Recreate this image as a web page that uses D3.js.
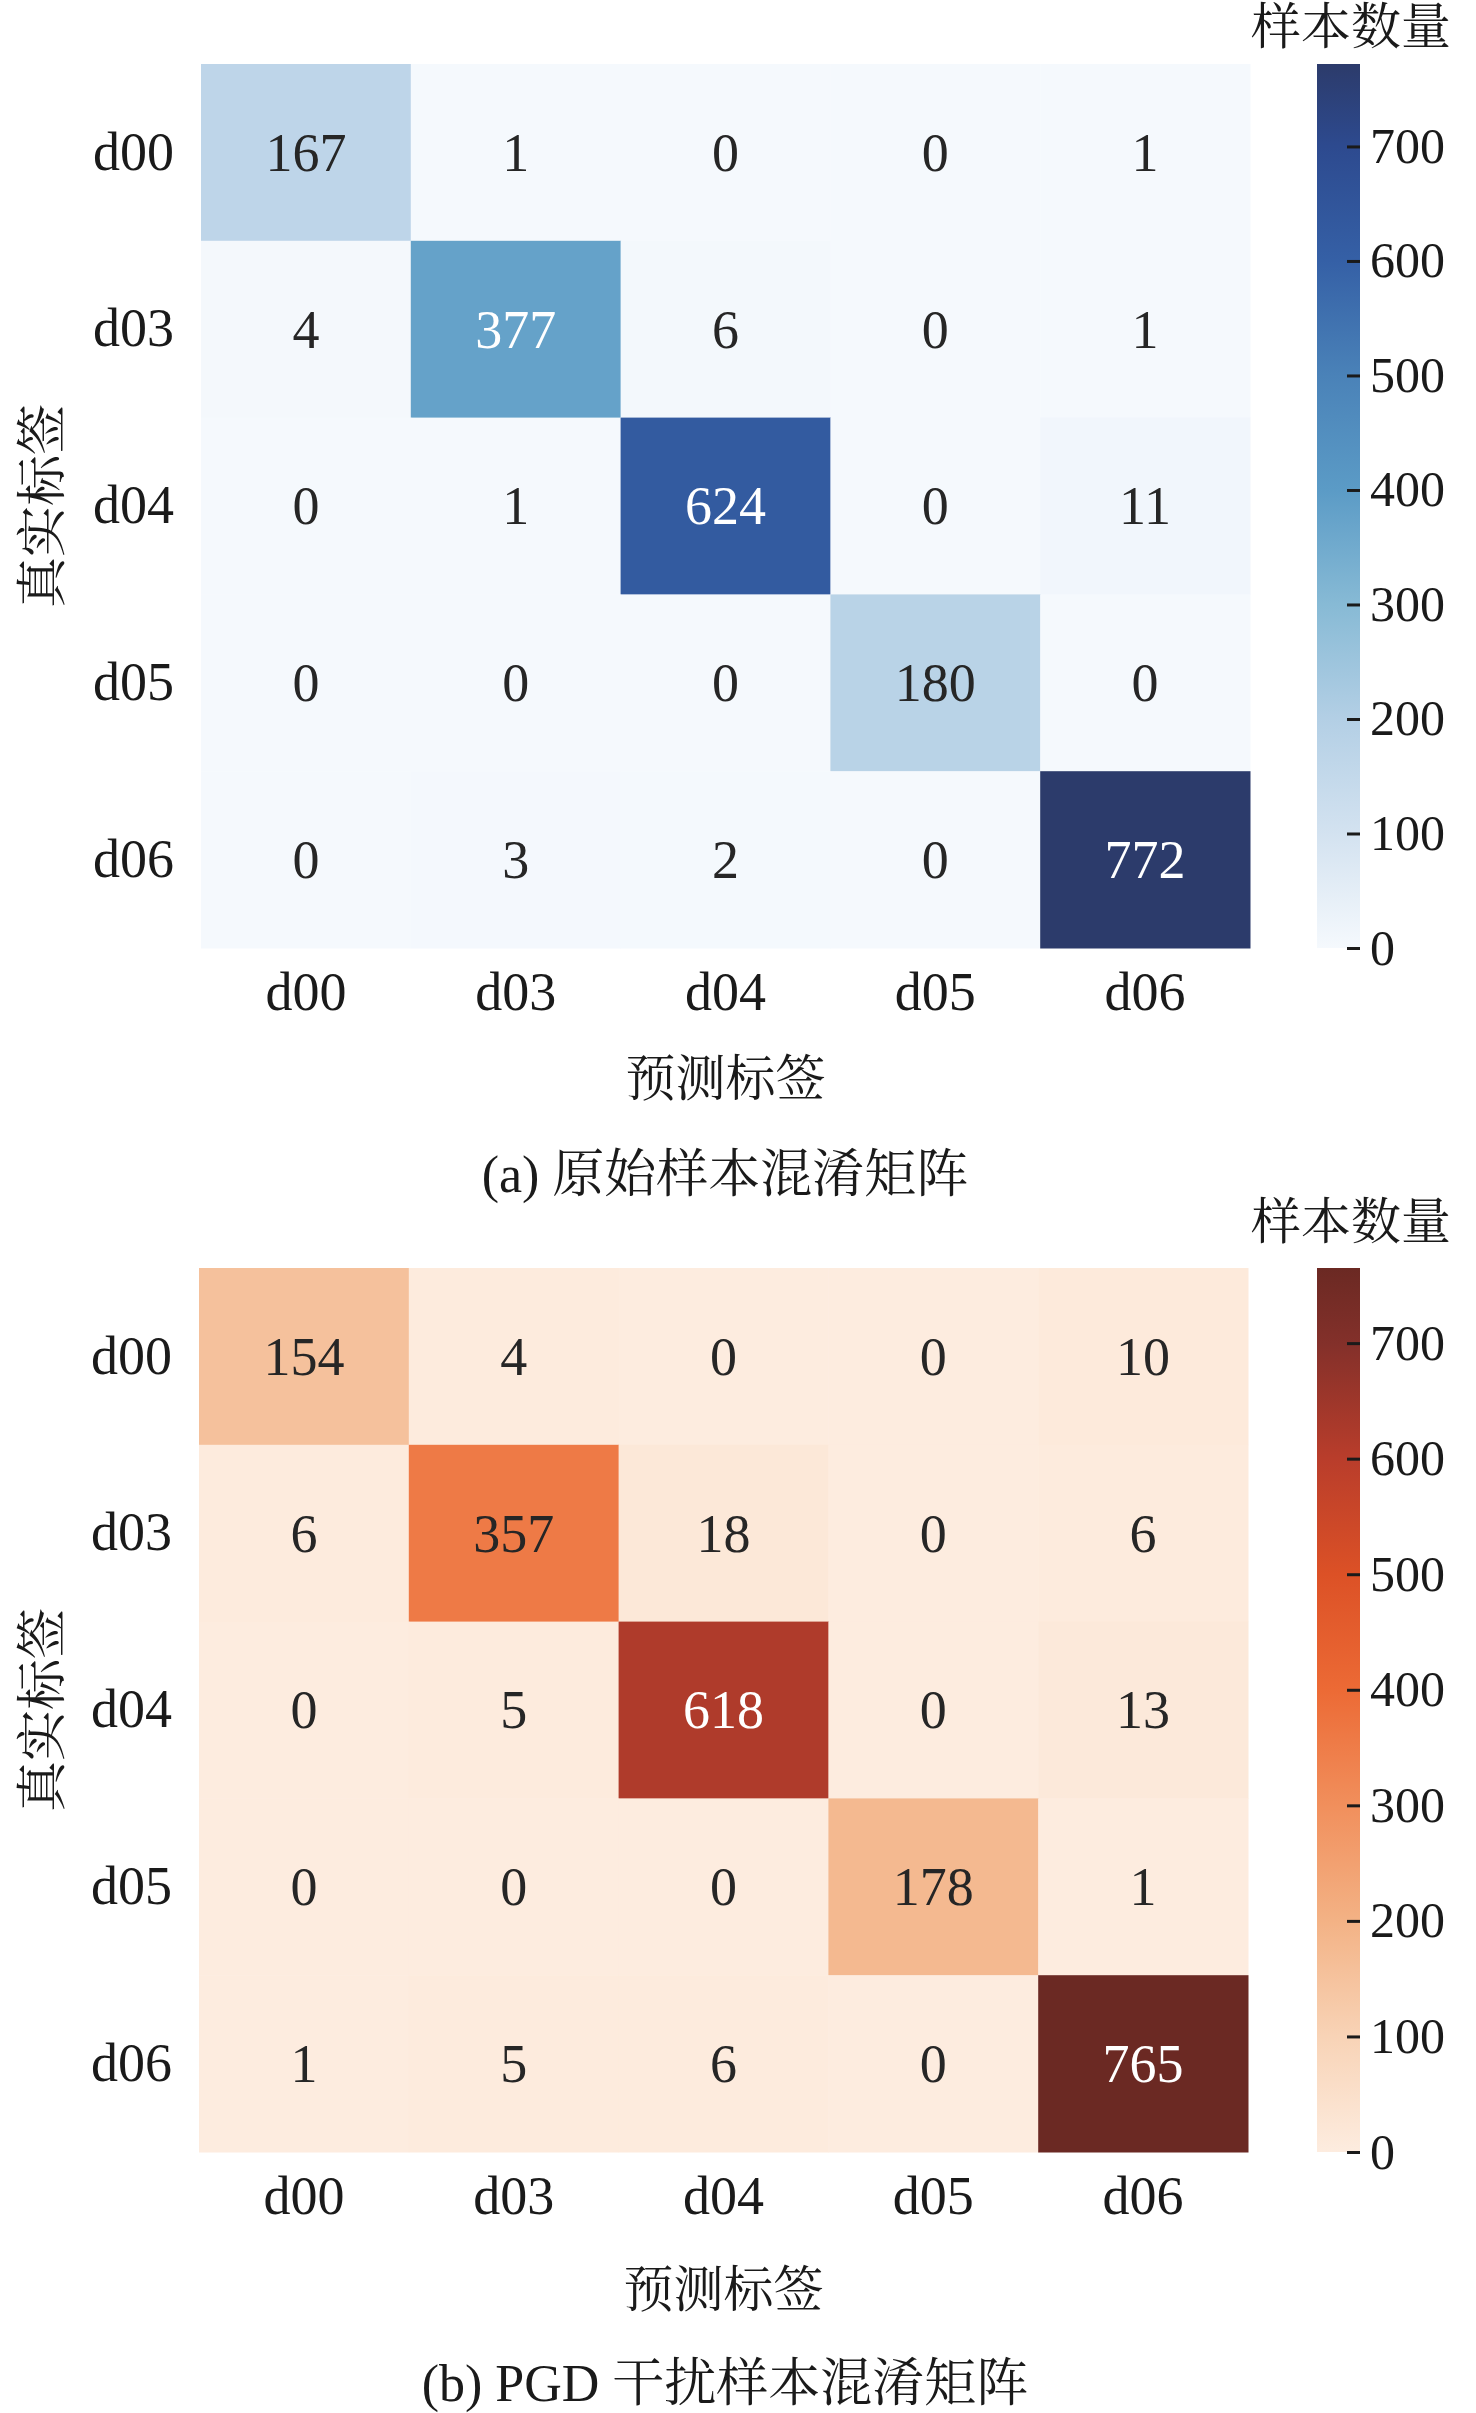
<!DOCTYPE html>
<html>
<head>
<meta charset="utf-8">
<script src="https://cdn.jsdelivr.net/npm/d3@7"></script>
<style>
  body { margin: 0; background: #fff; }
  text { font-family: "Liberation Serif", "Times New Roman", "Noto Serif CJK SC", "Noto Sans CJK SC", serif; fill: #1a1a1a; }
</style>
</head>
<body>
<svg id="chart" width="1476" height="2413"></svg>
<script>
// labels for both matrices
var classLabels = ["d00", "d03", "d04", "d05", "d06"];

// (a) original samples, rows = true label, cols = predicted
var originalCounts = [
  [167, 1, 0, 0, 1],
  [4, 377, 6, 0, 1],
  [0, 1, 624, 0, 11],
  [0, 0, 0, 180, 0],
  [0, 3, 2, 0, 772]
];

// (b) PGD perturbed samples
var pgdCounts = [
  [154, 4, 0, 0, 10],
  [6, 357, 18, 0, 6],
  [0, 5, 618, 0, 13],
  [0, 0, 0, 178, 1],
  [1, 5, 6, 0, 765]
];

var colorbarTicks = [0, 100, 200, 300, 400, 500, 600, 700];

// colours (at 0,100,...,700 and the max)
var blueRamp = ["#f5f9fd", "#d3e2f0", "#b3cfe5", "#87bad5", "#5b9bc6", "#4a82b8", "#3560a6", "#2d4a8f", "#2c3b6b"];
var orangeRamp = ["#fdecdf", "#f8d3b6", "#f3b285", "#f18f5c", "#ec6a35", "#dc5126", "#b93d2b", "#83302a", "#6b2923"];

var svg = d3.select("#chart");

function luminance(c) {
  var rgb = d3.rgb(c);
  var lin = [rgb.r, rgb.g, rgb.b].map(function (v) {
    v = v / 255;
    return v <= 0.03928 ? v / 12.92 : Math.pow((v + 0.055) / 1.055, 2.4);
  });
  return 0.2126 * lin[0] + 0.7152 * lin[1] + 0.0722 * lin[2];
}

function drawPanel(counts, ramp, baseScheme, caption, box) {
  var g = svg.append("g");
  var vmax = d3.max(counts, function (r) { return d3.max(r); });

  var x = d3.scaleBand().domain(classLabels).range([box.left, box.right]);
  var y = d3.scaleBand().domain(classLabels).range([box.top, box.bottom]);

  var stopValues = colorbarTicks.concat([vmax]);
  var color = d3.scaleLinear().domain(stopValues).range(ramp).interpolate(d3.interpolateRgb);

  var cells = [];
  counts.forEach(function (row, i) {
    row.forEach(function (v, j) {
      cells.push({row: classLabels[i], col: classLabels[j], value: v});
    });
  });

  g.selectAll("rect.cell")
    .data(cells)
    .enter()
    .append("rect")
    .attr("class", "cell")
    .attr("x", function (d) { return x(d.col); })
    .attr("y", function (d) { return y(d.row); })
    .attr("width", x.bandwidth() + 0.5)
    .attr("height", y.bandwidth() + 0.5)
    .attr("fill", function (d) { return color(d.value); });

  // annotations, text colour picked like seaborn does from the base scheme
  g.selectAll("text.annot")
    .data(cells)
    .enter()
    .append("text")
    .attr("class", "annot")
    .attr("x", function (d) { return x(d.col) + x.bandwidth() / 2; })
    .attr("y", function (d) { return y(d.row) + y.bandwidth() / 2; })
    .attr("dy", "0.34em")
    .attr("text-anchor", "middle")
    .style("font-size", "54px")
    .style("fill", function (d) {
      return luminance(baseScheme(d.value / vmax)) > 0.408 ? "#262626" : "#ffffff";
    })
    .text(function (d) { return d.value; });

  // axes
  var xAxis = g.append("g")
    .attr("transform", "translate(0," + box.bottom + ")")
    .call(d3.axisBottom(x).tickSize(0).tickPadding(24));
  xAxis.select(".domain").remove();
  xAxis.selectAll("text").style("font-size", "54px").style("fill", "#1a1a1a")
    .style("font-family", "Liberation Serif, serif");

  var yAxis = g.append("g")
    .attr("transform", "translate(" + box.left + ",0)")
    .call(d3.axisLeft(y).tickSize(0).tickPadding(27));
  yAxis.select(".domain").remove();
  yAxis.selectAll("text").style("font-size", "54px").style("fill", "#1a1a1a")
    .style("font-family", "Liberation Serif, serif");

  var midX = (box.left + box.right) / 2;
  var midY = (box.top + box.bottom) / 2;

  g.append("text")
    .attr("x", midX)
    .attr("y", box.bottom + box.xTitleOffset)
    .attr("text-anchor", "middle")
    .style("font-size", "50px")
    .text("预测标签");

  g.append("text")
    .attr("transform", "translate(42," + midY + ") rotate(-90)")
    .attr("dy", "0.36em")
    .attr("text-anchor", "middle")
    .style("font-size", "51px")
    .text("真实标签");

  g.append("text")
    .attr("x", 725)
    .attr("y", box.bottom + box.captionOffset)
    .attr("text-anchor", "middle")
    .style("font-size", "52px")
    .text(caption);

  // colour bar
  var cbLeft = 1317, cbRight = 1360;
  var cy = d3.scaleLinear().domain([0, vmax]).range([box.bottom, box.top]);
  var gradId = "grad" + box.top;
  var grad = svg.append("defs").append("linearGradient")
    .attr("id", gradId)
    .attr("x1", 0).attr("y1", 1).attr("x2", 0).attr("y2", 0);
  grad.selectAll("stop")
    .data(stopValues)
    .enter()
    .append("stop")
    .attr("offset", function (d) { return d / vmax; })
    .attr("stop-color", function (d) { return color(d); });

  g.append("rect")
    .attr("x", cbLeft)
    .attr("y", box.top)
    .attr("width", cbRight - cbLeft)
    .attr("height", box.bottom - box.top)
    .attr("fill", "url(#" + gradId + ")");

  var cAxis = g.append("g")
    .attr("transform", "translate(" + (cbRight - 13) + ",0)")
    .call(d3.axisRight(cy).tickValues(colorbarTicks).tickSize(13).tickPadding(10));
  cAxis.select(".domain").remove();
  cAxis.selectAll("line").attr("stroke", "#1a1a1a").attr("stroke-width", 3);
  cAxis.selectAll("text").style("font-size", "50px").style("fill", "#1a1a1a")
    .style("font-family", "Liberation Serif, serif");

  g.append("text")
    .attr("x", 1351)
    .attr("y", box.cbTitleY)
    .attr("text-anchor", "middle")
    .style("font-size", "50px")
    .text("样本数量");
}

drawPanel(originalCounts, blueRamp, d3.interpolateBlues, "(a) 原始样本混淆矩阵",
  {left: 201, right: 1250, top: 64, bottom: 948, xTitleOffset: 148, captionOffset: 244, cbTitleY: 44});
drawPanel(pgdCounts, orangeRamp, d3.interpolateOranges, "(b) PGD 干扰样本混淆矩阵",
  {left: 199, right: 1248, top: 1268, bottom: 2152, xTitleOffset: 155, captionOffset: 249, cbTitleY: 1239});
</script>
</body>
</html>
